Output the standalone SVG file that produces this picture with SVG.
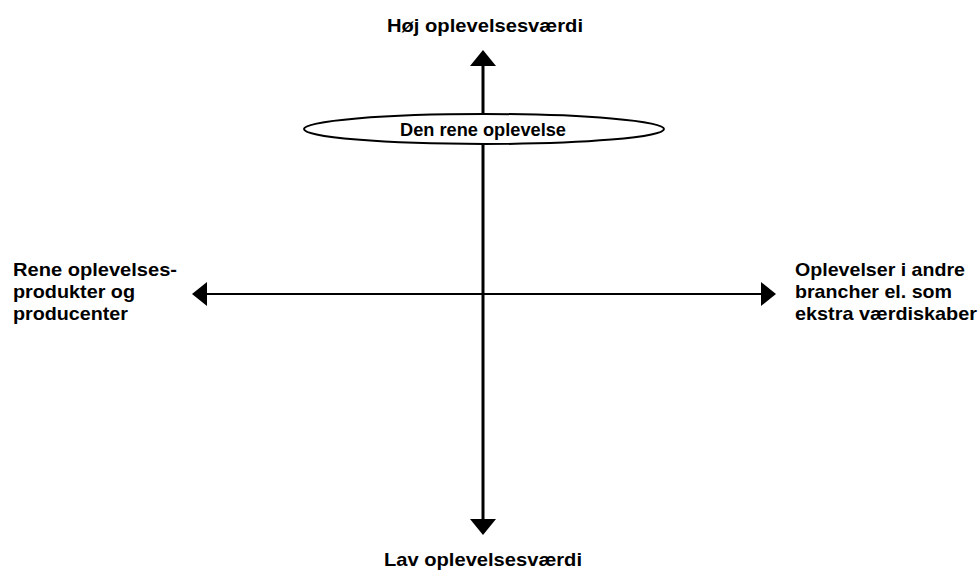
<svg xmlns="http://www.w3.org/2000/svg" width="980" height="574" viewBox="0 0 980 574">
<style>
.t{font-family:"Liberation Sans",Arial,sans-serif;font-weight:bold;font-size:19px;fill:#000}
.c{text-anchor:middle}
.ln{stroke:#000;stroke-width:3;fill:none}
</style>
<rect width="980" height="574" fill="#fff"/>
<g id="connectors">
<line class="ln" x1="483" y1="64" x2="483" y2="521"/>
<polygon points="483,50 470,66 496,66" fill="#000"/>
<polygon points="483,535 470,519 496,519" fill="#000"/>
<line x1="204" y1="294" x2="764" y2="294" stroke="#000" stroke-width="2"/>
<polygon points="192,294 207,282 207,306" fill="#000"/>
<polygon points="776,294 761,282 761,306" fill="#000"/>
</g>
<g id="node-center">
<ellipse cx="484" cy="129" rx="180" ry="15" fill="#fff" stroke="#000" stroke-width="2"/>
<text class="t c" x="483" y="136" textLength="166" lengthAdjust="spacingAndGlyphs">Den rene oplevelse</text>
</g>
<g id="node-top"><text class="t c" x="485" y="32" textLength="196" lengthAdjust="spacingAndGlyphs">Høj oplevelsesværdi</text></g>
<g id="node-bottom"><text class="t c" x="483" y="566" textLength="198" lengthAdjust="spacingAndGlyphs">Lav oplevelsesværdi</text></g>
<g id="node-left">
<text class="t" x="13" y="276" textLength="164" lengthAdjust="spacingAndGlyphs">Rene oplevelses-</text>
<text class="t" x="13" y="298" textLength="122" lengthAdjust="spacingAndGlyphs">produkter og</text>
<text class="t" x="13" y="320" textLength="115" lengthAdjust="spacingAndGlyphs">producenter</text>
</g>
<g id="node-right">
<text class="t" x="795" y="276" textLength="170" lengthAdjust="spacingAndGlyphs">Oplevelser i andre</text>
<text class="t" x="795" y="298" textLength="157" lengthAdjust="spacingAndGlyphs">brancher el. som</text>
<text class="t" x="795" y="320" textLength="182" lengthAdjust="spacingAndGlyphs">ekstra værdiskaber</text>
</g>
</svg>
